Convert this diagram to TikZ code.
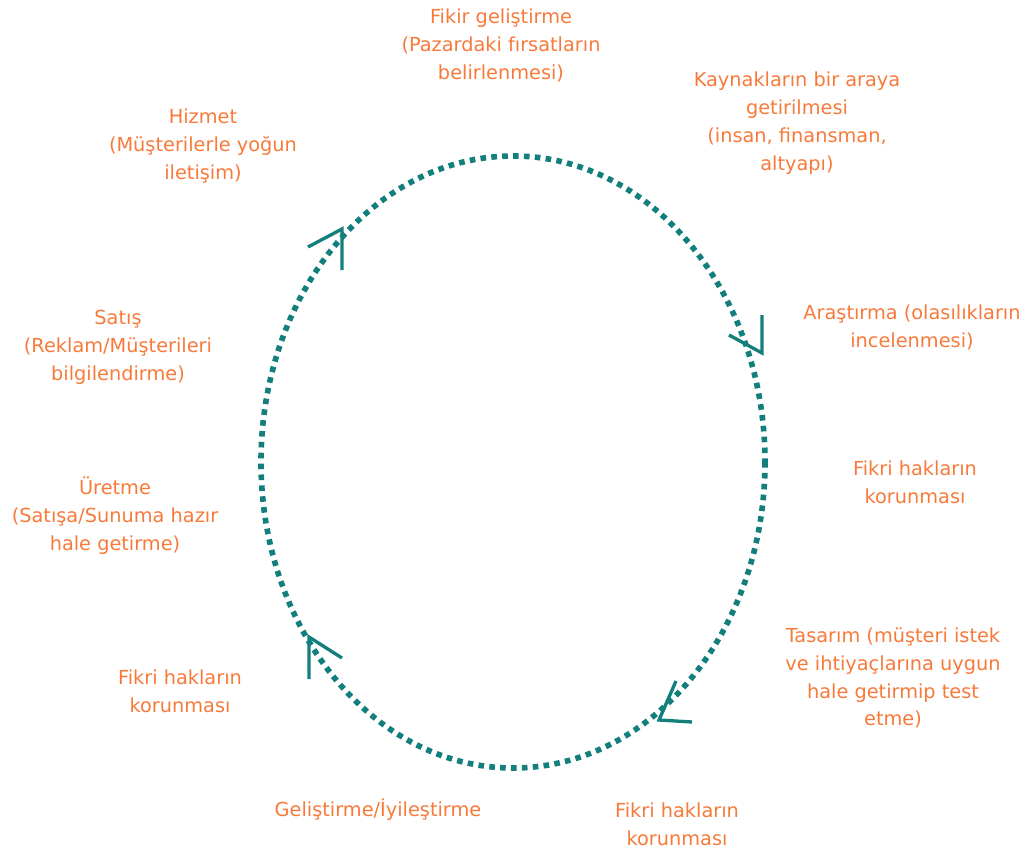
\documentclass[tikz,border=0pt]{standalone}
\usepackage{fontspec}
\setmainfont{DejaVu Sans}
\usepackage{xcolor}
\usepackage{tikz}
\usetikzlibrary{calc}
\definecolor{CycleTeal}{HTML}{137F7D}
\definecolor{CycleOrange}{HTML}{F77A3A}
\tikzset{
  lbl/.style={text=CycleOrange, align=center, inner sep=0pt,
              font=\fontsize{11}{15.9}\selectfont},
  ring/.style={draw=CycleTeal, line width=3.2pt, dash pattern=on 3.2pt off 3pt},
  chev/.style={draw=CycleTeal, line width=1.9pt}
}

\begin{document}
\begin{tikzpicture}[x=0.02cm, y=-0.02cm]
  \useasboundingbox (0,0) rectangle (1027,855);
  % the cycle
  \coordinate (c) at (513,462);
  \draw[ring] (c) ellipse [x radius=252, y radius=306];
  % arrow heads on the cycle
  \coordinate (t1) at (342,229);
  \coordinate (t2) at (762,353);
  \coordinate (t3) at (659,720);
  \coordinate (t4) at (309,637);
  \draw[chev] ($(t1)+(-34,18)$) -- (t1) -- ++(0,41);
  \draw[chev] ($(t2)+(0,-38)$) -- (t2) -- ++(-33,-18);
  \draw[chev] ($(t3)+(17,-39)$) -- (t3) -- ++(33,2);
  \draw[chev] ($(t4)+(0,42)$) -- (t4) -- ++(33,21);
  % steps
  \node[lbl] (fikir) at (501,45) {Fikir geliştirme\\(Pazardaki fırsatların\\belirlenmesi)};
  \node[lbl] (kaynak) at (797,123) {Kaynakların bir araya\\getirilmesi\\(insan, finansman,\\altyapı)};
  \node[lbl] (arastirma) at (912,327) {Araştırma (olasılıkların\\incelenmesi)};
  \node[lbl] (hak1) at (915,482) {Fikri hakların\\korunması};
  \node[lbl] (tasarim) at (893,678) {Tasarım (müşteri istek\\ve ihtiyaçlarına uygun\\hale getirmip test\\etme)};
  \node[lbl] (hak2) at (677,824) {Fikri hakların\\korunması};
  \node[lbl] (gelistirme) at (378,810) {Geliştirme/İyileştirme};
  \node[lbl] (hak3) at (180,691) {Fikri hakların\\korunması};
  \node[lbl] (uretme) at (115,516) {Üretme\\(Satışa/Sunuma hazır\\hale getirme)};
  \node[lbl] (satis) at (118,347) {Satış\\(Reklam/Müşterileri\\bilgilendirme)};
  \node[lbl] (hizmet) at (203,146) {Hizmet\\(Müşterilerle yoğun\\iletişim)};
\end{tikzpicture}
\end{document}
